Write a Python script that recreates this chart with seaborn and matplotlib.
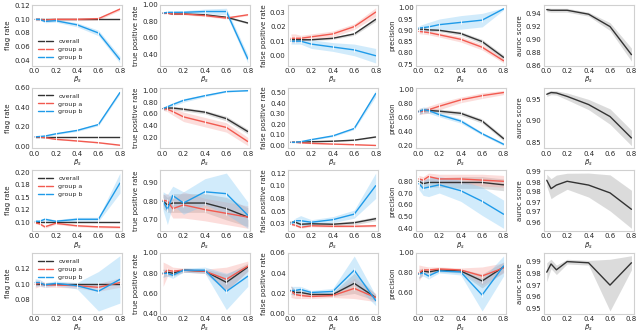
import numpy as np
import pandas as pd
import seaborn as sns
import matplotlib.pyplot as plt
from matplotlib.ticker import FormatStrFormatter

# x values (beta_s) shared by all panels
beta = [0.01, 0.05, 0.1, 0.2, 0.4, 0.6, 0.8]

groups = ["overall", "group a", "group b"]
metrics = ["flag rate", "true positive rate", "false positive rate", "precision", "auroc score"]

# ---- flag rate: one list per row (4 rows) ----
flag_overall = [[0.10] * 7] * 4
flag_a = [
    [0.100, 0.100, 0.099, 0.100, 0.100, 0.101, 0.115],
    [0.100, 0.097, 0.092, 0.075, 0.058, 0.040, 0.015],
    [0.099, 0.097, 0.091, 0.098, 0.093, 0.091, 0.090],
    [0.100, 0.101, 0.099, 0.099, 0.098, 0.096, 0.102],
]
flag_b = [
    [0.100, 0.100, 0.097, 0.098, 0.092, 0.080, 0.041],
    [0.100, 0.103, 0.108, 0.130, 0.165, 0.225, 0.550],
    [0.102, 0.102, 0.106, 0.102, 0.106, 0.106, 0.178],
    [0.102, 0.102, 0.099, 0.101, 0.098, 0.091, 0.106],
]
flag_overall_err = [[0.0005] * 7, [0.002] * 7, [0.0005] * 7, [0.0008] * 7]
flag_a_err = [
    [0.002, 0.002, 0.002, 0.002, 0.002, 0.002, 0.002],
    [0.004, 0.004, 0.004, 0.004, 0.004, 0.004, 0.005],
    [0.002, 0.002, 0.003, 0.002, 0.002, 0.002, 0.002],
    [0.005, 0.004, 0.003, 0.003, 0.003, 0.005, 0.006],
]
flag_b_err = [
    [0.001, 0.001, 0.002, 0.002, 0.003, 0.004, 0.005],
    [0.004, 0.005, 0.006, 0.008, 0.010, 0.012, 0.015],
    [0.003, 0.003, 0.003, 0.003, 0.004, 0.004, 0.020],
    [0.005, 0.004, 0.003, 0.003, 0.004, 0.025, 0.030],
]

# ---- true positive rate ----
tpr_overall = [
    [0.90, 0.90, 0.89, 0.89, 0.88, 0.85, 0.78],
    [0.69, 0.70, 0.70, 0.68, 0.63, 0.52, 0.30],
    [0.80, 0.78, 0.79, 0.79, 0.79, 0.76, 0.715],
    [0.80, 0.81, 0.80, 0.83, 0.82, 0.71, 0.86],
]
tpr_a = [
    [0.90, 0.90, 0.89, 0.89, 0.87, 0.84, 0.88],
    [0.69, 0.68, 0.64, 0.55, 0.46, 0.37, 0.13],
    [0.805, 0.80, 0.76, 0.78, 0.755, 0.735, 0.715],
    [0.79, 0.83, 0.82, 0.83, 0.82, 0.74, 0.87],
]
tpr_b = [
    [0.90, 0.91, 0.91, 0.91, 0.92, 0.92, 0.34],
    [0.69, 0.72, 0.76, 0.83, 0.91, 0.98, 0.995],
    [0.80, 0.755, 0.83, 0.79, 0.85, 0.84, 0.725],
    [0.80, 0.80, 0.78, 0.83, 0.83, 0.62, 0.77],
]
tpr_overall_err = [
    [0.005, 0.005, 0.005, 0.006, 0.008, 0.010, 0.012],
    [0.03, 0.03, 0.03, 0.03, 0.03, 0.04, 0.04],
    [0.04, 0.04, 0.05, 0.05, 0.05, 0.06, 0.05],
    [0.04, 0.03, 0.03, 0.02, 0.02, 0.08, 0.04],
]
tpr_a_err = [
    [0.010, 0.010, 0.010, 0.010, 0.012, 0.012, 0.010],
    [0.03, 0.04, 0.06, 0.08, 0.08, 0.08, 0.07],
    [0.03, 0.04, 0.05, 0.07, 0.06, 0.06, 0.06],
    [0.12, 0.06, 0.04, 0.02, 0.02, 0.12, 0.05],
]
tpr_b_err = [
    [0.01, 0.01, 0.015, 0.02, 0.03, 0.04, 0.05],
    [0.03, 0.03, 0.03, 0.03, 0.02, 0.01, 0.005],
    [0.05, 0.08, 0.05, 0.06, 0.07, 0.11, 0.07],
    [0.04, 0.03, 0.03, 0.02, 0.03, 0.18, 0.10],
]

# ---- false positive rate ----
fpr_overall = [
    [0.011, 0.011, 0.011, 0.011, 0.012, 0.015, 0.025],
    [0.030, 0.030, 0.030, 0.035, 0.040, 0.050, 0.080],
    [0.028, 0.028, 0.024, 0.025, 0.024, 0.027, 0.035],
    [0.023, 0.021, 0.021, 0.019, 0.019, 0.030, 0.016],
]
fpr_a = [
    [0.012, 0.012, 0.012, 0.013, 0.015, 0.020, 0.030],
    [0.030, 0.030, 0.025, 0.020, 0.013, 0.007, 0.000],
    [0.024, 0.022, 0.018, 0.021, 0.020, 0.020, 0.021],
    [0.022, 0.019, 0.018, 0.017, 0.018, 0.025, 0.016],
]
fpr_b = [
    [0.010, 0.010, 0.010, 0.008, 0.006, 0.004, 0.000],
    [0.030, 0.030, 0.035, 0.055, 0.090, 0.160, 0.490],
    [0.025, 0.031, 0.031, 0.028, 0.033, 0.044, 0.100],
    [0.023, 0.023, 0.024, 0.021, 0.022, 0.043, 0.013],
]
fpr_overall_err = [
    [0.0005, 0.0005, 0.0005, 0.0006, 0.0008, 0.001, 0.0015],
    [0.003, 0.003, 0.003, 0.003, 0.003, 0.004, 0.005],
    [0.003, 0.003, 0.003, 0.003, 0.003, 0.004, 0.004],
    [0.004, 0.003, 0.003, 0.002, 0.002, 0.010, 0.003],
]
fpr_a_err = [
    [0.003, 0.003, 0.002, 0.002, 0.002, 0.002, 0.003],
    [0.004, 0.004, 0.004, 0.004, 0.003, 0.003, 0.002],
    [0.002, 0.002, 0.002, 0.002, 0.002, 0.002, 0.002],
    [0.006, 0.004, 0.003, 0.002, 0.002, 0.010, 0.004],
]
fpr_b_err = [
    [0.002, 0.002, 0.002, 0.003, 0.003, 0.004, 0.005],
    [0.004, 0.004, 0.005, 0.006, 0.008, 0.010, 0.030],
    [0.003, 0.005, 0.010, 0.005, 0.006, 0.008, 0.025],
    [0.004, 0.004, 0.003, 0.002, 0.003, 0.014, 0.005],
]

# ---- precision ----
prec_overall = [
    [0.905, 0.905, 0.902, 0.900, 0.886, 0.850, 0.780],
    [0.69, 0.70, 0.70, 0.69, 0.66, 0.55, 0.30],
    [0.80, 0.78, 0.79, 0.79, 0.79, 0.79, 0.77],
    [0.79, 0.82, 0.81, 0.83, 0.82, 0.72, 0.86],
]
prec_a = [
    [0.895, 0.893, 0.890, 0.880, 0.860, 0.825, 0.765],
    [0.68, 0.69, 0.71, 0.76, 0.85, 0.91, 0.955],
    [0.82, 0.81, 0.84, 0.82, 0.82, 0.81, 0.80],
    [0.80, 0.83, 0.83, 0.84, 0.83, 0.77, 0.85],
]
prec_b = [
    [0.910, 0.912, 0.915, 0.925, 0.935, 0.945, 0.995],
    [0.68, 0.71, 0.70, 0.64, 0.55, 0.37, 0.22],
    [0.78, 0.74, 0.75, 0.77, 0.72, 0.63, 0.52],
    [0.79, 0.80, 0.77, 0.82, 0.81, 0.58, 0.87],
]
prec_overall_err = [
    [0.005, 0.005, 0.005, 0.006, 0.008, 0.010, 0.010],
    [0.04, 0.04, 0.03, 0.03, 0.03, 0.03, 0.03],
    [0.03, 0.03, 0.04, 0.04, 0.05, 0.05, 0.05],
    [0.05, 0.03, 0.02, 0.02, 0.02, 0.07, 0.05],
]
prec_a_err = [
    [0.010, 0.010, 0.010, 0.010, 0.012, 0.012, 0.010],
    [0.04, 0.04, 0.05, 0.05, 0.04, 0.04, 0.03],
    [0.03, 0.03, 0.03, 0.04, 0.04, 0.05, 0.05],
    [0.08, 0.04, 0.03, 0.02, 0.02, 0.09, 0.05],
]
prec_b_err = [
    [0.010, 0.015, 0.020, 0.025, 0.030, 0.030, 0.005],
    [0.04, 0.04, 0.04, 0.03, 0.03, 0.02, 0.02],
    [0.05, 0.06, 0.08, 0.07, 0.09, 0.12, 0.12],
    [0.04, 0.03, 0.03, 0.02, 0.03, 0.16, 0.10],
]

# ---- auroc (overall only) ----
auroc = [
    [0.946, 0.945, 0.945, 0.945, 0.939, 0.920, 0.877],
    [0.962, 0.966, 0.965, 0.957, 0.938, 0.910, 0.860],
    [0.9858, 0.9816, 0.9834, 0.9853, 0.9834, 0.9795, 0.9713],
    [0.981, 0.988, 0.983, 0.990, 0.989, 0.970, 0.989],
]
auroc_err = [
    [0.003, 0.003, 0.003, 0.003, 0.003, 0.006, 0.010],
    [0.005, 0.005, 0.005, 0.008, 0.012, 0.018, 0.018],
    [0.003, 0.005, 0.005, 0.004, 0.006, 0.009, 0.0095],
    [0.008, 0.004, 0.004, 0.002, 0.002, 0.022, 0.006],
]

# y ticks per panel (rows x metrics); labels are rounded to 2 decimals as in the original
yticks = [
    [[0.04, 0.06, 0.08, 0.10, 0.12], [0.4, 0.6, 0.8, 1.0], [0.0, 0.01, 0.02, 0.03],
     [0.75, 0.80, 0.85, 0.90, 0.95, 1.00], [0.86, 0.88, 0.90, 0.92, 0.94]],
    [[0.0, 0.2, 0.4, 0.6], [0.2, 0.4, 0.6, 0.8, 1.0], [0.0, 0.1, 0.2, 0.3, 0.4, 0.5],
     [0.2, 0.4, 0.6, 0.8, 1.0], [0.85, 0.90, 0.95]],
    [[0.10, 0.1249, 0.15, 0.1751, 0.20], [0.7, 0.8, 0.9], [0.0251, 0.05, 0.0751, 0.1, 0.1249],
     [0.4, 0.5, 0.6, 0.7, 0.8], [0.9649, 0.970, 0.9749, 0.980, 0.9849, 0.990]],
    [[0.08, 0.10, 0.12], [0.4, 0.6, 0.8, 1.0], [0.0, 0.02, 0.04, 0.06],
     [0.6, 0.8, 1.0], [0.95, 0.96, 0.97, 0.98, 0.99]],
]

colors = {"overall": "#333333", "group a": "#f25a50", "group b": "#1f9be9"}
band_colors = {"overall": "#9a9a9a", "group a": "#f7a09a", "group b": "#7cc6f5"}

series = {
    0: (flag_overall, flag_a, flag_b, flag_overall_err, flag_a_err, flag_b_err),
    1: (tpr_overall, tpr_a, tpr_b, tpr_overall_err, tpr_a_err, tpr_b_err),
    2: (fpr_overall, fpr_a, fpr_b, fpr_overall_err, fpr_a_err, fpr_b_err),
    3: (prec_overall, prec_a, prec_b, prec_overall_err, prec_a_err, prec_b_err),
}


def main():
    sns.set_theme(style="white")
    plt.rcParams["font.family"] = ["DejaVu Sans"]
    plt.rcParams["font.size"] = 5

    fig, axes = plt.subplots(4, 5, figsize=(6.4, 3.32), dpi=100)
    fig.subplots_adjust(left=0.05, right=0.99, top=0.985, bottom=0.055,
                        wspace=0.42, hspace=0.36)

    for r in range(4):
        for c in range(5):
            ax = axes[r, c]
            if c < 4:
                vals = series[c]
                for g, mean, err in zip(groups, vals[:3], vals[3:]):
                    df = pd.DataFrame({"beta": beta, "value": mean[r]})
                    lo = np.array(mean[r]) - np.array(err[r])
                    hi = np.array(mean[r]) + np.array(err[r])
                    ax.fill_between(beta, lo, hi, color=band_colors[g],
                                    alpha=0.35, linewidth=0)
                    sns.lineplot(data=df, x="beta", y="value", ax=ax,
                                 color=colors[g], linewidth=1.0, marker="|",
                                 markersize=2.5, markeredgewidth=0.6, label=g)
                loc = "lower left" if r == 0 else "upper left"
                if c == 0:
                    ax.legend(loc=loc, fontsize=4.5, frameon=False,
                              handlelength=2.5, labelspacing=0.4)
                else:
                    ax.get_legend().remove()
            else:
                df = pd.DataFrame({"beta": beta, "value": auroc[r]})
                lo = np.array(auroc[r]) - np.array(auroc_err[r])
                hi = np.array(auroc[r]) + np.array(auroc_err[r])
                ax.fill_between(beta, lo, hi, color="#9a9a9a", alpha=0.35,
                                linewidth=0)
                sns.lineplot(data=df, x="beta", y="value", ax=ax,
                             color=colors["overall"], linewidth=1.0)

            ax.set_yticks(yticks[r][c])
            ax.yaxis.set_major_formatter(FormatStrFormatter("%.2f"))
            ax.xaxis.set_major_formatter(FormatStrFormatter("%.1f"))
            ax.set_xticks([0.0, 0.2, 0.4, 0.6, 0.8])
            ax.set_xlim(-0.02, 0.82)
            ax.set_xlabel(r"$\beta_s$", fontsize=5, labelpad=1)
            ax.set_ylabel(metrics[c], fontsize=5, labelpad=2)
            ax.tick_params(labelsize=5, pad=1.5, length=0)
            for s in ax.spines.values():
                s.set_color("#d0d0d0")
                s.set_linewidth(0.8)

    fig.savefig("out.png", dpi=100)


if __name__ == "__main__":
    main()
